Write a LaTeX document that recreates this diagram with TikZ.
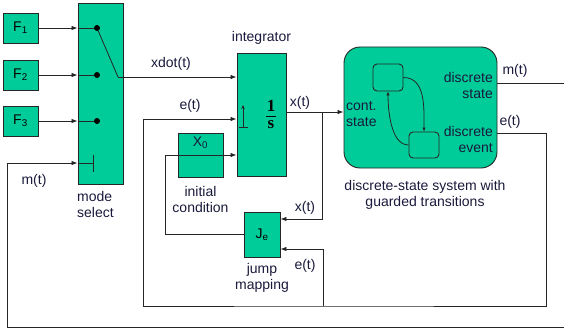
\documentclass[tikz,border=0pt]{standalone}
\usepackage{fontspec}
\setmainfont{Liberation Sans}
\newfontfamily\timesfont{Liberation Serif}
\usetikzlibrary{positioning}
\usetikzlibrary{arrows.meta}
\definecolor{blockgreen}{RGB}{0,204,153}
\definecolor{labelblue}{RGB}{25,25,60}

\begin{document}
\begin{tikzpicture}[x=1pt, y=-1pt,
	block/.style={rectangle, draw=black!85, fill=blockgreen, line width=0.9pt, inner sep=0pt},
	signal/.style={draw=black!85, line width=0.8pt},
	input/.style={signal, -{Latex[length=6pt, width=4.5pt]}},
	lbl/.style={text=labelblue, font=\fontsize{14}{16}\selectfont, inner sep=0pt, align=center},
	frac/.style={inner sep=0pt, font=\timesfont\bfseries\fontsize{17}{17}\selectfont},
	dot/.style={circle, fill=black, inner sep=0pt, minimum size=6pt},
]
	\useasboundingbox (0,0) rectangle (564,329);

	% sources and mode select
	\node[block, minimum width=35pt, minimum height=30pt] (F1) at (20.5,28) {\fontsize{14}{16}\selectfont F\textsubscript{1}};
	\node[block, minimum width=35pt, minimum height=30pt] (F2) at (20.5,75) {\fontsize{14}{16}\selectfont F\textsubscript{2}};
	\node[block, minimum width=35pt, minimum height=30pt] (F3) at (20.5,121) {\fontsize{14}{16}\selectfont F\textsubscript{3}};
	\node[block, minimum width=45pt, minimum height=181pt] (mode) at (100.5,93.5) {};
	\node[lbl, align=left, anchor=north west] (modelbl) at (77,191) {mode\\select};

	\foreach \i in {1,2,3} {
		\node[dot] (d\i) at (97,0 |- F\i) {};
		\draw[input] (F\i.east) -- (F\i.east -| mode.west);
		\draw[signal] (F\i.east -| mode.west) -- (d\i);
	}
	\coordinate (sw) at (118,77);

	% integrator
	\node[block, minimum width=49pt, minimum height=123pt] (integ) at (261.5,114.5) {};
	\node[lbl, above=8pt of integ] (integlbl) {integrator};
	\node[frac] (one) at (271,106) {1};
	\node[frac] (ess) at (271,125) {s};
	\draw[line width=1pt] (266,116) -- (276,116);
	\coordinate (rst) at (243,127);
	\draw[signal, -{Stealth[length=4pt, width=3.5pt]}] (rst) -- ++(0,-22);
	\draw[signal] (rst) ++(-4.5,0) -- ++(9,0);

	% initial condition and jump mapping
	\node[block, minimum width=45pt, minimum height=44pt] (ic) at (200.5,155) {};
	\node[lbl] (x0) at (200.5,143) {X\textsubscript{0}};
	\node[lbl, below=9pt of ic] (iclbl) {initial\\condition};
	\node[block, minimum width=36pt, minimum height=45pt] (je) at (262,234.5) {\fontsize{14}{16}\selectfont J\textsubscript{e}};
	\node[lbl, below=6pt of je] (jelbl) {jump\\mapping};

	% discrete-state system
	\node[block, rounded corners=16pt, minimum width=153pt, minimum height=121pt] (dss) at (420.5,107.5) {};
	\node[block, rounded corners=4pt, minimum width=30pt, minimum height=27pt] (sa) at (388,77.5) {};
	\node[block, rounded corners=4pt, minimum width=30pt, minimum height=26pt] (sb) at (424,145) {};
	\draw[input, -{Latex[length=4pt, width=3.5pt]}] (sa.east) to[out=0, in=90] (sb.north);
	\draw[input, -{Latex[length=4pt, width=3.5pt]}] (sb.west) to[out=180, in=-90, looseness=0.8] (sa.south);
	\node[lbl, align=left, anchor=west] (cont) at (346,114) {cont.\\state};
	\node[lbl, align=right, anchor=east] (dstate) at (493,85) {discrete\\state};
	\node[lbl, align=right, anchor=east] (devent) at (493,139) {discrete\\event};
	\node[lbl] (dsslbl) at (425,195) {discrete-state system with\\guarded transitions};

	% signals
	\draw[signal] (d1) -- (sw);
	\draw[input] (sw) -- (sw -| integ.west);
	\node[lbl] (xdot) at (171,64) {xdot(t)};

	\coordinate (xbr) at (322,112);
	\draw[input] (integ.east |- xbr) -- (dss.west |- xbr);
	\draw[input] (xbr) |- (je.east |- 0,219);
	\node[lbl] (xtop) at (300,103) {x(t)};
	\node[lbl] (xlow) at (305,208) {x(t)};

	\coordinate (eout) at (546,133);
	\coordinate (ebr) at (323,306);
	\coordinate (ein) at (143,119);
	\draw[input] (dss.east |- eout) -- (eout) |- (ebr) -| (ein) -- (integ.west |- ein);
	\draw[input] (ebr) |- (je.east |- 0,249);
	\node[lbl] (etop) at (190,106) {e(t)};
	\node[lbl] (elow) at (305,266) {e(t)};
	\node[lbl] (eright) at (510,122) {e(t)};

	\coordinate (icin) at (165,155);
	\draw[input] (je.west) -| (icin) -- (integ.west |- icin);

	\coordinate (mout) at (570,83);
	\coordinate (mtk) at (93,163);
	\draw[input] (dss.east |- mout) -- (mout) |- (7,327) |- (mode.west |- mtk);
	\draw[signal] (mode.west |- mtk) -- (mtk);
	\draw[signal] (mtk) ++(0,-8.5) -- ++(0,17);
	\node[lbl] (mleft) at (34,181) {m(t)};
	\node[lbl] (mright) at (515,71) {m(t)};
\end{tikzpicture}
\end{document}
